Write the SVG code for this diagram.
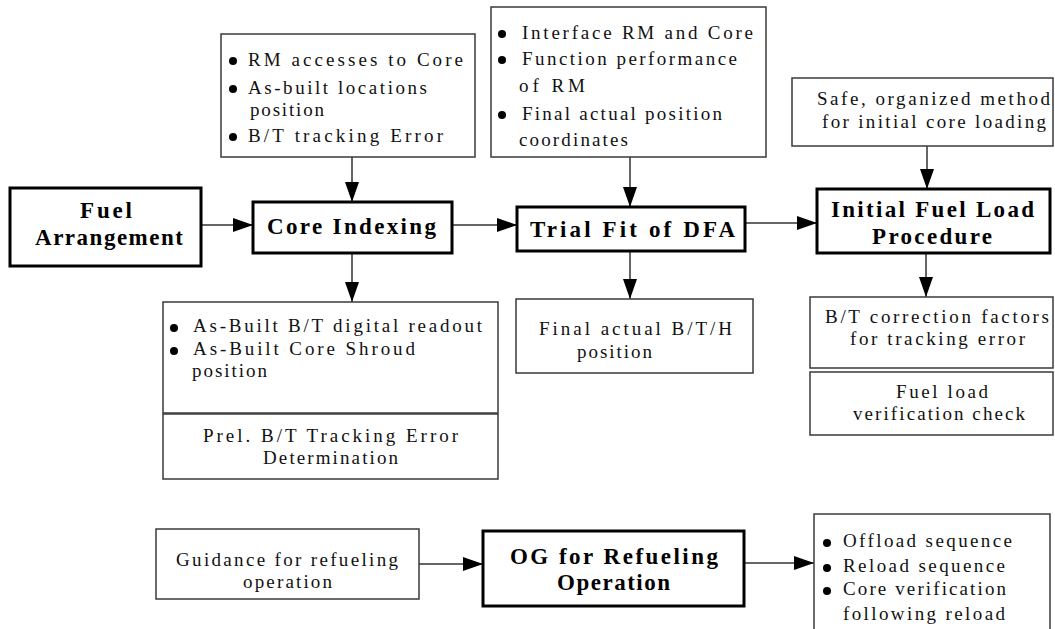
<svg xmlns="http://www.w3.org/2000/svg" width="1055" height="629" viewBox="0 0 1055 629" font-family="Liberation Serif, DejaVu Serif, serif">
  <style>
    .thin { fill: #fff; stroke: #3a3a3a; stroke-width: 1.5; }
    .thick { fill: #fff; stroke: #000; stroke-width: 3; }
    .t { font-size: 19px; fill: #111; }
    .b { font-size: 23px; font-weight: bold; fill: #000; }
    .dot { fill: #000; }
    .wire { stroke: #333; stroke-width: 1.5; fill: none; marker-end: url(#head); }
  </style>
  <defs>
    <marker id="head" markerUnits="userSpaceOnUse" markerWidth="20" markerHeight="14" refX="20" refY="7" orient="auto">
      <path d="M0,0 L20,7 L0,14 z" fill="#000"/>
    </marker>
  </defs>

  <rect width="1055" height="629" fill="#fff"/>

  <!-- connectors -->
  <g id="connectors">
    <line class="wire" x1="201" y1="225" x2="253" y2="225"/>
    <line class="wire" x1="352" y1="157" x2="352" y2="202"/>
    <line class="wire" x1="452" y1="225" x2="517" y2="225"/>
    <line class="wire" x1="630" y1="157" x2="630" y2="207"/>
    <line class="wire" x1="745" y1="223" x2="817" y2="223"/>
    <line class="wire" x1="927" y1="146" x2="927" y2="189"/>
    <line class="wire" x1="352" y1="253" x2="352" y2="302"/>
    <line class="wire" x1="630" y1="251" x2="630" y2="299"/>
    <line class="wire" x1="926" y1="253" x2="926" y2="297"/>
    <line class="wire" x1="419" y1="564" x2="483" y2="564"/>
    <line class="wire" x1="744" y1="563" x2="814" y2="563"/>
  </g>

  <!-- main process steps -->
  <g id="fuel-arrangement">
    <rect class="thick" x="10" y="188" width="191" height="78"/>
    <text class="b" x="80" y="218" textLength="52" lengthAdjust="spacing">Fuel</text>
    <text class="b" x="35" y="245" textLength="148" lengthAdjust="spacing">Arrangement</text>
  </g>

  <g id="core-indexing">
    <rect class="thick" x="253" y="202" width="199" height="51"/>
    <text class="b" x="267" y="234" textLength="169" lengthAdjust="spacing">Core Indexing</text>
  </g>

  <g id="trial-fit">
    <rect class="thick" x="517" y="207" width="228" height="44"/>
    <text class="b" x="530" y="237" textLength="205" lengthAdjust="spacing">Trial Fit of DFA</text>
  </g>

  <g id="initial-fuel-load">
    <rect class="thick" x="817" y="189" width="233" height="64"/>
    <text class="b" x="831" y="217" textLength="203" lengthAdjust="spacing">Initial Fuel Load</text>
    <text class="b" x="872" y="244" textLength="120" lengthAdjust="spacing">Procedure</text>
  </g>

  <g id="og-refueling">
    <rect class="thick" x="483" y="531" width="261" height="75"/>
    <text class="b" x="510" y="564" textLength="208" lengthAdjust="spacing">OG for Refueling</text>
    <text class="b" x="557" y="590" textLength="113" lengthAdjust="spacing">Operation</text>
  </g>

  <!-- inputs -->
  <g id="rm-access">
    <rect class="thin" x="221" y="34" width="254" height="123"/>
    <circle class="dot" cx="233" cy="61" r="4"/>
    <text class="t" x="248" y="66" textLength="215" lengthAdjust="spacing">RM accesses to Core</text>
    <circle class="dot" cx="233" cy="89" r="4"/>
    <text class="t" x="248" y="94" textLength="179" lengthAdjust="spacing">As-built locations</text>
    <text class="t" x="250" y="116" textLength="74" lengthAdjust="spacing">position</text>
    <circle class="dot" cx="233" cy="137" r="4"/>
    <text class="t" x="248" y="142" textLength="195" lengthAdjust="spacing">B/T tracking Error</text>
  </g>

  <g id="interface-rm">
    <rect class="thin" x="491" y="7" width="275" height="150"/>
    <circle class="dot" cx="502" cy="34" r="4"/>
    <text class="t" x="522" y="39" textLength="231" lengthAdjust="spacing">Interface RM and Core</text>
    <circle class="dot" cx="502" cy="60" r="4"/>
    <text class="t" x="522" y="65" textLength="215" lengthAdjust="spacing">Function performance</text>
    <text class="t" x="519" y="92" textLength="66" lengthAdjust="spacing">of RM</text>
    <circle class="dot" cx="502" cy="115" r="4"/>
    <text class="t" x="522" y="120" textLength="200" lengthAdjust="spacing">Final actual position</text>
    <text class="t" x="519" y="146" textLength="109" lengthAdjust="spacing">coordinates</text>
  </g>

  <g id="safe-method">
    <rect class="thin" x="792" y="78" width="261" height="68"/>
    <text class="t" x="817" y="105" textLength="233" lengthAdjust="spacing">Safe, organized method</text>
    <text class="t" x="822" y="128" textLength="224" lengthAdjust="spacing">for initial core loading</text>
  </g>

  <g id="guidance">
    <rect class="thin" x="156" y="529" width="263" height="70"/>
    <text class="t" x="176" y="566" textLength="222" lengthAdjust="spacing">Guidance for refueling</text>
    <text class="t" x="243" y="588" textLength="89" lengthAdjust="spacing">operation</text>
  </g>

  <!-- outputs -->
  <g id="as-built">
    <rect class="thin" x="163" y="302" width="335" height="111"/>
    <circle class="dot" cx="174" cy="328" r="4"/>
    <text class="t" x="193" y="332" textLength="289" lengthAdjust="spacing">As-Built B/T digital readout</text>
    <circle class="dot" cx="174" cy="351" r="4"/>
    <text class="t" x="193" y="355" textLength="222" lengthAdjust="spacing">As-Built Core Shroud</text>
    <text class="t" x="192" y="377" textLength="75" lengthAdjust="spacing">position</text>
  </g>

  <g id="prel-tracking">
    <rect class="thin" x="163" y="414" width="335" height="65"/>
    <text class="t" x="203" y="442" textLength="255" lengthAdjust="spacing">Prel. B/T Tracking Error</text>
    <text class="t" x="263" y="464" textLength="135" lengthAdjust="spacing">Determination</text>
  </g>

  <g id="final-position">
    <rect class="thin" x="516" y="299" width="237" height="74"/>
    <text class="t" x="539" y="335" textLength="193" lengthAdjust="spacing">Final actual B/T/H</text>
    <text class="t" x="577" y="358" textLength="75" lengthAdjust="spacing">position</text>
  </g>

  <g id="correction-factors">
    <rect class="thin" x="810" y="297" width="243" height="71"/>
    <text class="t" x="825" y="323" textLength="224" lengthAdjust="spacing">B/T correction factors</text>
    <text class="t" x="850" y="345" textLength="175" lengthAdjust="spacing">for tracking error</text>
  </g>

  <g id="verification-check">
    <rect class="thin" x="810" y="372" width="243" height="63"/>
    <text class="t" x="896" y="398" textLength="92" lengthAdjust="spacing">Fuel load</text>
    <text class="t" x="853" y="420" textLength="172" lengthAdjust="spacing">verification check</text>
  </g>

  <g id="reload-sequence">
    <rect class="thin" x="814" y="514" width="236" height="130"/>
    <circle class="dot" cx="827" cy="543" r="4"/>
    <text class="t" x="843" y="547" textLength="169" lengthAdjust="spacing">Offload sequence</text>
    <circle class="dot" cx="827" cy="568" r="4"/>
    <text class="t" x="843" y="572" textLength="162" lengthAdjust="spacing">Reload sequence</text>
    <circle class="dot" cx="827" cy="591" r="4"/>
    <text class="t" x="843" y="595" textLength="163" lengthAdjust="spacing">Core verification</text>
    <text class="t" x="843" y="620" textLength="162" lengthAdjust="spacing">following reload</text>
  </g>
</svg>
